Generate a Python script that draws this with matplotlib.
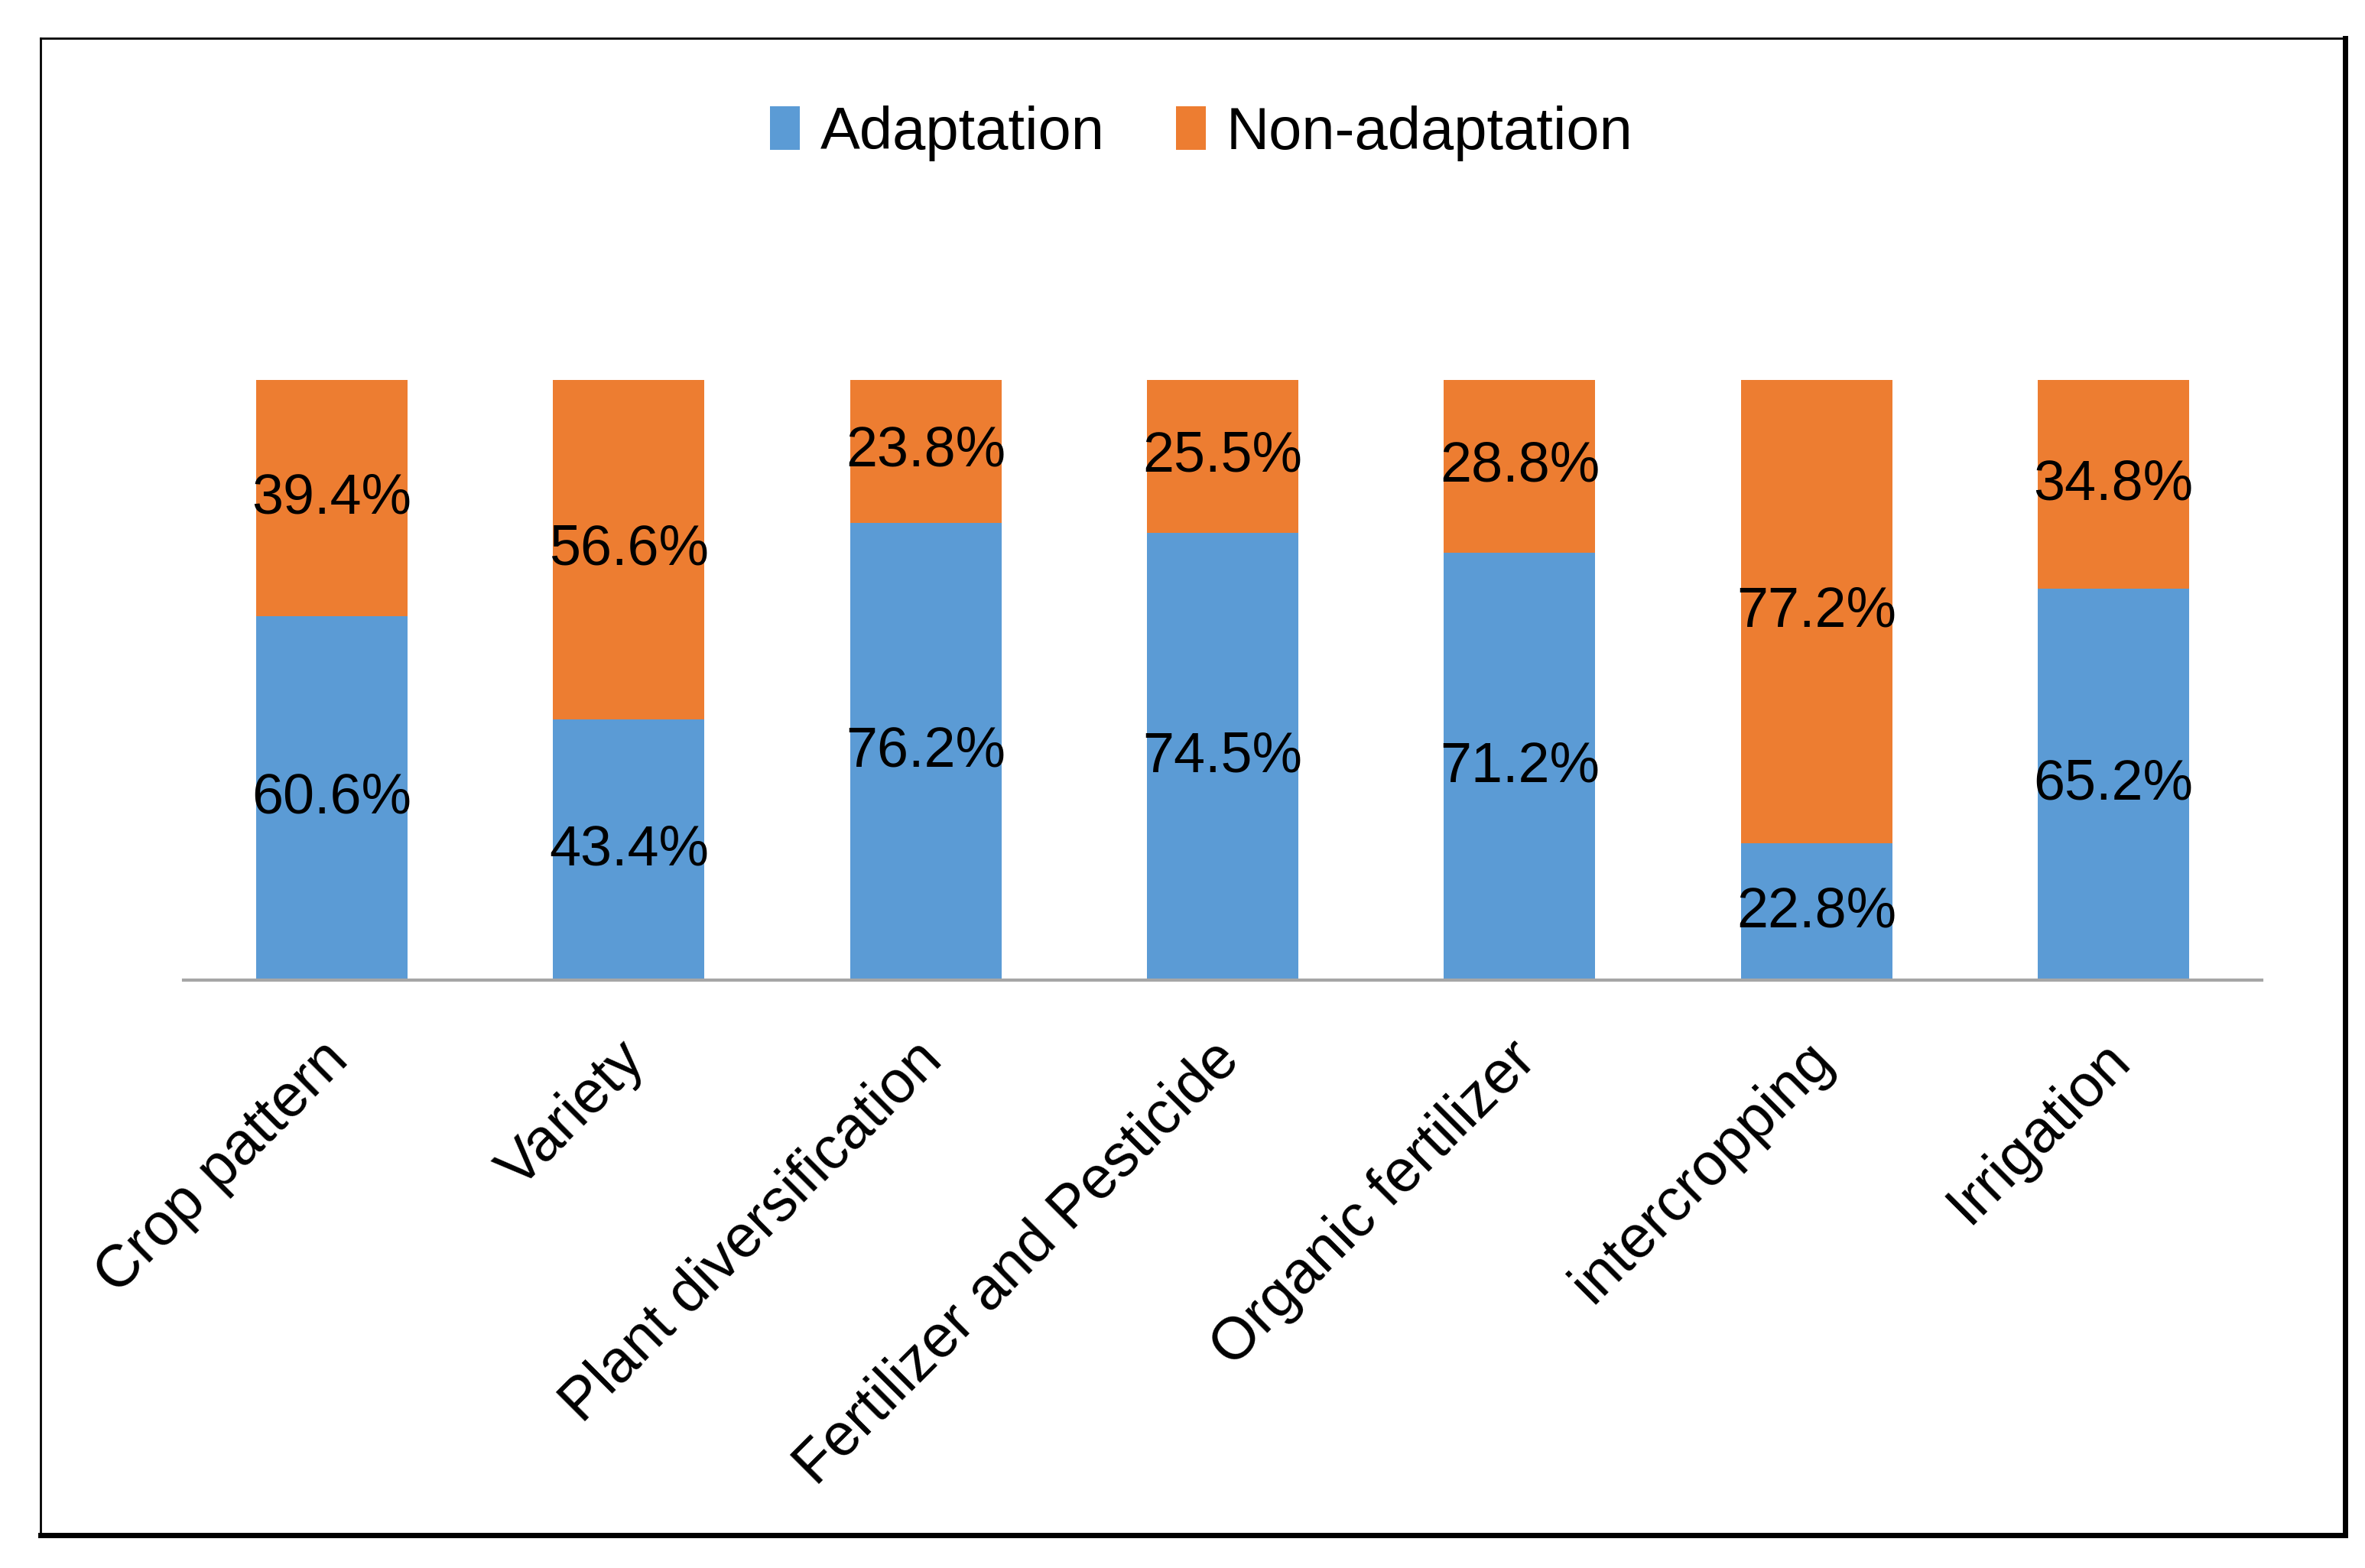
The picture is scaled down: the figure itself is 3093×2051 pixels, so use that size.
import matplotlib
matplotlib.use("Agg")
import matplotlib.pyplot as plt
from matplotlib.lines import Line2D
from matplotlib.transforms import ScaledTranslation
import numpy as np

plt.rcParams['font.family'] = ['Liberation Sans', 'DejaVu Sans']

# data
categories = ['Crop pattern', 'Variety', 'Plant diversification', 'Fertilizer and Pesticide',
              'Organic fertilizer', 'intercropping', 'Irrigation']
adaptation = [60.6, 43.4, 76.2, 74.5, 71.2, 22.8, 65.2]
non_adaptation = [39.4, 56.6, 23.8, 25.5, 28.8, 77.2, 34.8]

blue = '#5B9BD5'
orange = '#ED7D31'

fig = plt.figure(figsize=(30.93, 20.51), dpi=100)
ax = fig.add_axes([0.0776, 0.3749, 0.8788, 0.3828])

x = np.arange(len(categories))
w = 0.51
b1 = ax.bar(x, adaptation, w, color=blue, label='Adaptation')
b2 = ax.bar(x, non_adaptation, w, bottom=adaptation, color=orange, label='Non-adaptation')

for i in range(len(categories)):
    ax.text(x[i], adaptation[i] / 2, f'{adaptation[i]:.1f}%', ha='center', va='center', fontsize=53)
    ax.text(x[i], adaptation[i] + non_adaptation[i] / 2, f'{non_adaptation[i]:.1f}%',
            ha='center', va='center', fontsize=53)

ax.set_xlim(-0.5, len(categories) - 0.5)
ax.set_ylim(0, 100)
ax.set_yticks([])
for s in ['top', 'right', 'left']:
    ax.spines[s].set_visible(False)
ax.spines['bottom'].set_color('#A6A6A6')
ax.spines['bottom'].set_linewidth(3)
ax.set_xticks(x)
ax.set_xticklabels(categories, rotation=45, ha='right', rotation_mode='anchor', fontsize=56)
ax.tick_params(axis='x', length=0, pad=48)
# nudge labels a bit to the left like the original
shift = ScaledTranslation(-0.16, 0, fig.dpi_scale_trans)
for lab in ax.get_xticklabels():
    lab.set_transform(lab.get_transform() + shift)

fig.legend(handles=[b1, b2], loc='center', bbox_to_anchor=(0.508, 0.915), ncol=2, frameon=False,
           fontsize=56, handlelength=0.5, handleheight=0.75, handletextpad=0.35, columnspacing=1.2)

# outer frame
fig.add_artist(Line2D([0.0171, 0.9916], [0.9756, 0.9756], transform=fig.transFigure, color='black', lw=2))
fig.add_artist(Line2D([0.0171, 0.0171], [0.9756, 0.0209], transform=fig.transFigure, color='black', lw=2))
fig.add_artist(Line2D([0.9916, 0.9916], [0.9756, 0.0209], transform=fig.transFigure, color='black', lw=5))
fig.add_artist(Line2D([0.0171, 0.9916], [0.0209, 0.0209], transform=fig.transFigure, color='black', lw=5))

fig.savefig('out.png', dpi=100)
